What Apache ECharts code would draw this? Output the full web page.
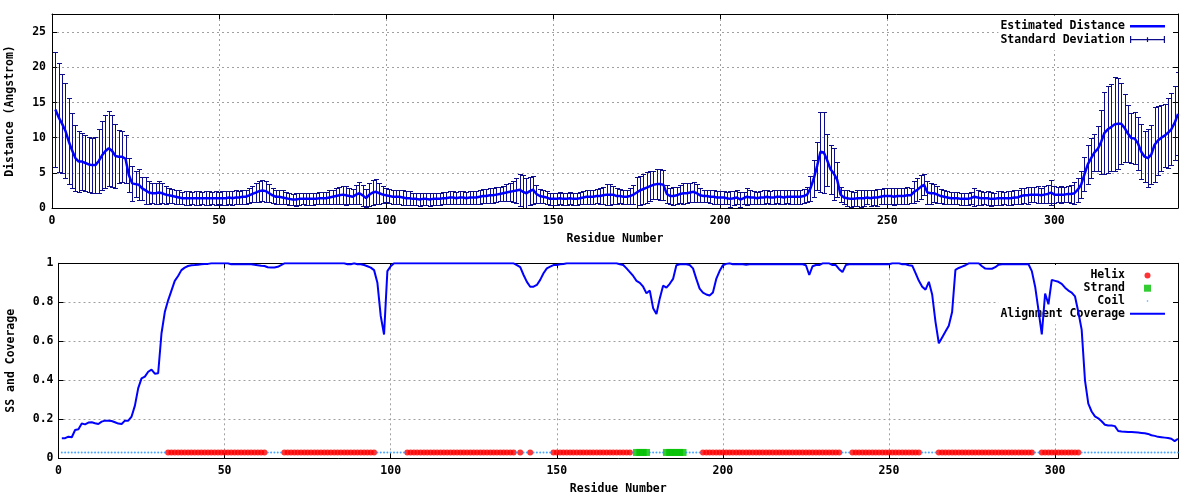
<!DOCTYPE html>
<html>
<head>
<meta charset="utf-8">
<script src="https://cdn.jsdelivr.net/npm/echarts@6/dist/echarts.min.js"></script>
<style>html,body{margin:0;padding:0;background:#fff}#chart{width:1200px;height:500px}</style>
</head>
<body>
<div id="chart"></div>
<script>
// ---------------- data ----------------
const distance = [
/*1-10*/ 14.0,12.9,12.0,11.0,9.5,8.2,7.1,6.6,6.6,6.4,
/*11-20*/ 6.2,6.1,6.1,6.7,7.5,8.1,8.5,8.1,7.4,7.3,
/*21-30*/ 7.3,7.0,4.7,3.5,3.4,3.3,2.8,2.5,2.2,2.1,
/*31-40*/ 2.1,2.2,2.1,1.9,1.8,1.7,1.6,1.5,1.4,1.4,
/*41-50*/ 1.4,1.4,1.4,1.4,1.4,1.4,1.4,1.4,1.4,1.4,
/*51-60*/ 1.4,1.4,1.5,1.4,1.5,1.5,1.6,1.6,1.8,2.0,
/*61-70*/ 2.2,2.4,2.5,2.4,2.1,1.8,1.6,1.6,1.5,1.4,
/*71-80*/ 1.3,1.2,1.2,1.3,1.3,1.3,1.3,1.3,1.3,1.4,
/*81-90*/ 1.4,1.4,1.5,1.6,1.7,1.8,1.9,1.8,1.7,1.6,
/*91-100*/ 1.9,2.1,1.8,1.4,1.9,2.2,2.3,2.1,1.9,1.8,
/*101-110*/ 1.7,1.6,1.6,1.6,1.5,1.4,1.4,1.3,1.3,1.2,
/*111-120*/ 1.3,1.3,1.2,1.3,1.3,1.3,1.4,1.4,1.5,1.5,
/*121-130*/ 1.4,1.5,1.5,1.4,1.5,1.5,1.5,1.6,1.7,1.7,
/*131-140*/ 1.8,1.8,1.9,2.0,2.1,2.2,2.3,2.4,2.5,2.6,
/*141-150*/ 2.3,2.1,2.4,2.6,2.0,1.7,1.6,1.5,1.3,1.3,
/*151-160*/ 1.3,1.4,1.3,1.3,1.4,1.3,1.3,1.4,1.5,1.6,
/*161-170*/ 1.6,1.6,1.7,1.7,1.8,1.9,1.9,1.9,1.7,1.7,
/*171-180*/ 1.6,1.6,1.7,1.9,2.2,2.5,2.7,2.9,3.1,3.3,
/*181-190*/ 3.4,3.4,3.3,2.0,1.7,1.7,1.8,2.0,2.1,2.1,
/*191-200*/ 2.2,2.3,2.1,1.8,1.7,1.7,1.6,1.6,1.5,1.5,
/*201-210*/ 1.5,1.4,1.3,1.4,1.5,1.2,1.4,1.6,1.5,1.5,
/*211-220*/ 1.4,1.5,1.5,1.6,1.5,1.5,1.6,1.6,1.5,1.6,
/*221-230*/ 1.6,1.6,1.6,1.6,1.7,1.9,2.8,4.2,6.0,8.0,
/*231-240*/ 7.9,6.8,5.5,4.9,4.0,1.9,1.5,1.4,1.3,1.3,
/*241-250*/ 1.4,1.4,1.4,1.5,1.4,1.5,1.5,1.6,1.7,1.7,
/*251-260*/ 1.7,1.6,1.7,1.7,1.7,1.8,1.8,2.3,2.6,3.0,
/*261-270*/ 3.3,2.2,2.1,2.1,1.9,1.7,1.6,1.5,1.4,1.4,
/*271-280*/ 1.4,1.3,1.3,1.3,1.4,1.6,1.5,1.4,1.4,1.4,
/*281-290*/ 1.3,1.3,1.4,1.4,1.4,1.4,1.4,1.5,1.5,1.7,
/*291-300*/ 1.8,1.8,1.9,1.9,1.9,1.8,1.9,2.0,2.2,1.9,
/*301-310*/ 1.9,1.9,1.9,2.0,2.0,2.1,2.6,3.3,4.8,6.2,
/*311-320*/ 7.1,7.9,8.4,9.4,10.7,11.2,11.5,11.9,12.0,12.0,
/*321-330*/ 11.4,10.6,9.95,9.9,9.2,8.0,7.3,7.1,7.6,9.0,
/*331-337*/ 9.6,10.0,10.3,10.7,11.2,12.1,13.4
];

const stdDev = [
/*1-10*/ 8.2,7.8,7.0,6.8,6.1,5.3,4.7,4.3,4.1,4.0,
/*11-20*/ 3.9,3.9,4.0,4.5,4.9,5.2,5.3,5.1,4.6,3.8,
/*21-30*/ 3.6,3.4,2.4,2.5,1.9,2.2,1.6,1.9,1.7,1.4,
/*31-40*/ 1.5,1.7,1.4,1.3,1.1,1.0,1.0,1.0,0.9,1.0,
/*41-50*/ 1.0,0.9,1.0,1.0,0.9,1.0,1.0,0.9,1.0,0.9,
/*51-60*/ 1.0,1.0,0.9,1.0,1.0,0.9,1.0,1.0,1.1,1.2,
/*61-70*/ 1.4,1.5,1.5,1.5,1.3,1.1,1.0,1.0,1.0,0.9,
/*71-80*/ 0.9,0.8,0.9,0.9,0.8,0.9,0.9,0.9,0.8,0.9,
/*81-90*/ 0.9,0.9,1.0,1.0,1.1,1.2,1.3,1.4,1.2,1.1,
/*91-100*/ 1.4,1.6,1.5,1.3,1.6,1.8,1.8,1.5,1.2,1.0,
/*101-110*/ 1.0,1.0,1.0,1.0,1.1,1.0,1.0,0.9,0.9,0.9,
/*111-120*/ 0.9,0.9,0.9,0.9,0.9,0.9,0.9,0.9,0.9,0.9,
/*121-130*/ 0.9,0.9,0.9,0.9,0.9,0.9,0.9,1.0,1.0,1.0,
/*131-140*/ 1.1,1.1,1.1,1.0,1.1,1.2,1.3,1.5,1.8,2.3,
/*141-150*/ 2.4,2.2,2.0,2.0,1.3,1.0,0.9,0.9,0.9,0.9,
/*151-160*/ 0.9,0.9,0.9,0.9,0.9,0.9,0.9,0.9,0.9,1.0,
/*161-170*/ 1.0,1.0,1.0,1.1,1.2,1.5,1.5,1.3,1.1,1.0,
/*171-180*/ 1.0,1.0,1.1,1.4,2.2,2.1,2.1,2.2,2.1,2.0,
/*181-190*/ 2.1,2.2,2.1,1.3,1.2,1.3,1.2,1.3,1.5,1.4,
/*191-200*/ 1.4,1.4,1.3,1.0,0.9,0.9,0.9,1.0,0.9,0.9,
/*201-210*/ 0.9,0.9,1.1,1.0,1.0,1.1,0.9,1.2,1.0,0.9,
/*211-220*/ 0.9,0.9,1.0,0.9,0.9,1.0,0.9,1.0,1.0,0.9,
/*221-230*/ 1.0,1.0,1.0,1.0,1.0,1.1,1.8,2.7,3.4,5.7,
/*231-240*/ 5.8,3.7,3.5,3.7,2.5,1.1,1.0,1.1,1.1,1.0,
/*241-250*/ 1.1,1.2,1.1,1.0,1.1,1.1,1.2,1.1,1.2,1.2,
/*251-260*/ 1.1,1.2,1.2,1.1,1.2,1.2,1.1,1.6,1.6,1.7,
/*261-270*/ 1.5,1.6,1.5,1.3,1.2,1.0,1.0,0.9,0.9,0.9,
/*271-280*/ 0.9,0.9,0.9,0.9,0.9,1.3,1.1,1.0,0.9,1.0,
/*281-290*/ 1.0,0.9,1.0,1.0,0.9,1.0,1.0,1.0,1.0,1.1,
/*291-300*/ 1.1,1.2,1.1,1.1,1.2,1.1,1.2,1.3,1.8,1.2,
/*301-310*/ 1.1,1.2,1.1,1.2,1.3,1.6,1.7,1.9,2.4,2.8,
/*311-320*/ 2.8,2.6,3.2,4.5,5.8,6.2,6.2,6.7,6.5,5.8,
/*321-330*/ 4.8,4.0,3.6,3.7,3.8,3.9,3.6,4.1,4.2,5.3,
/*331-337*/ 4.9,4.7,4.5,5.0,5.1,5.3,5.9
];

const coverage = [
/*1-10*/ 0.103,0.103,0.111,0.108,0.145,0.149,0.178,0.174,0.183,0.185,
/*11-20*/ 0.180,0.176,0.188,0.193,0.193,0.191,0.185,0.178,0.176,0.193,
/*21-30*/ 0.193,0.214,0.27,0.36,0.41,0.419,0.444,0.455,0.434,0.436,
/*31-40*/ 0.64,0.75,0.81,0.86,0.91,0.935,0.965,0.978,0.986,0.99,
/*41-50*/ 0.991,0.993,0.995,0.996,0.997,1,1,1,1,1,
/*51-60*/ 1,0.995,0.995,0.995,0.995,0.995,0.995,0.995,0.993,0.99,
/*61-70*/ 0.987,0.986,0.98,0.978,0.978,0.982,0.991,1,1,1,
/*71-80*/ 1,1,1,1,1,1,1,1,1,1,
/*81-90*/ 1,1,1,1,1,1,0.995,0.995,1,0.995,
/*91-100*/ 0.995,0.991,0.985,0.978,0.965,0.90,0.73,0.635,0.96,0.985,
/*101-110*/ 1,1,1,1,1,1,1,1,1,1,
/*111-120*/ 1,1,1,1,1,1,1,1,1,1,
/*121-130*/ 1,1,1,1,1,1,1,1,1,1,
/*131-140*/ 1,1,1,1,1,1,1,0.991,0.98,0.94,
/*141-150*/ 0.905,0.88,0.88,0.889,0.915,0.949,0.974,0.983,0.991,0.991,
/*151-160*/ 0.995,0.996,1,1,1,1,1,1,1,1,
/*161-170*/ 1,1,1,1,1,1,1,1,0.995,0.991,
/*171-180*/ 0.974,0.955,0.935,0.91,0.90,0.88,0.846,0.86,0.77,0.74,
/*181-190*/ 0.82,0.885,0.875,0.895,0.92,0.99,0.995,0.995,0.995,0.991,
/*191-200*/ 0.974,0.92,0.87,0.85,0.84,0.835,0.85,0.92,0.96,0.99,
/*201-210*/ 0.997,1,0.995,0.995,0.996,0.995,0.993,0.995,0.995,0.995,
/*211-220*/ 0.995,0.995,0.995,0.995,0.995,0.995,0.995,0.995,0.995,0.995,
/*221-230*/ 0.995,0.995,0.995,0.995,0.99,0.94,0.985,0.991,0.991,1,
/*231-240*/ 1,1,0.991,0.991,0.97,0.955,0.991,0.995,0.995,0.995,
/*241-250*/ 0.995,0.995,0.995,0.995,0.995,0.995,0.995,0.995,0.995,0.995,
/*251-260*/ 1,1,1,0.995,0.995,0.99,0.988,0.95,0.91,0.88,
/*261-270*/ 0.865,0.905,0.84,0.70,0.59,0.62,0.65,0.68,0.75,0.966,
/*271-280*/ 0.976,0.983,0.99,1,1,1,1,0.985,0.973,0.972,
/*281-290*/ 0.972,0.98,0.993,0.995,0.995,0.995,0.995,0.995,0.995,0.995,
/*291-300*/ 0.995,0.995,0.96,0.88,0.76,0.635,0.845,0.79,0.915,0.91,
/*301-310*/ 0.905,0.895,0.875,0.86,0.85,0.83,0.75,0.66,0.40,0.28,
/*311-320*/ 0.24,0.215,0.205,0.19,0.172,0.168,0.168,0.165,0.14,0.137,
/*321-330*/ 0.136,0.135,0.135,0.134,0.132,0.13,0.128,0.125,0.118,0.115,
/*331-337*/ 0.11,0.108,0.106,0.104,0.1,0.088,0.1
];

// secondary structure, as residue ranges [first, last]
const helixRanges  = [[33,62],[68,95],[105,137],[139,139],[142,142],[149,172],[194,235],[239,259],[265,293],[296,307]];
const strandRanges = [[174,177],[183,188]];
const ssLevel = 0.03;          // height at which the SS track is drawn

// axes
const residueMax = 337;
const distMax = 27.6;
const xTickStep = 50;
const distTickStep = 5;
const covTickStep = 0.2;

// ---------------- build series data ----------------
const residues = distance.map((_, i) => i + 1);
const distLine = residues.map((r, i) => [r, distance[i]]);
const errData  = residues.map((r, i) => [r, distance[i] - stdDev[i], distance[i] + stdDev[i]]);
const covLine  = coverage.map((v, i) => [i + 1, v]);

function inRanges(r, ranges) { return ranges.some(g => r >= g[0] && r <= g[1]); }
const helixPts = [], strandPts = [], coilPts = [];
residues.forEach(r => {
  if (inRanges(r, helixRanges)) helixPts.push([r, ssLevel]);
  else if (inRanges(r, strandRanges)) strandPts.push([r, ssLevel]);
  else coilPts.push([r, ssLevel]);
});

// ---------------- styling ----------------
const FONT = 'DejaVu Sans Mono';
const txt = { fontFamily: FONT, fontWeight: 'bold', fontSize: 11.5, color: '#000' };
const gridLine = { show: true, showMinLine: false, showMaxLine: false,
  lineStyle: { color: '#a0a0a0', width: 1, type: [2, 3] } };
const axLine = { show: true, onZero: false, lineStyle: { color: '#000', width: 1 } };
const axTick = { show: true, inside: true, length: 5, lineStyle: { color: '#000', width: 1 } };
const errColor = '#0c0c8c';
const lineBlue = '#0000ff';

function xAx(grid, pos, main) {
  return {
    gridIndex: grid, type: 'value', position: pos, min: 0, max: residueMax, interval: xTickStep,
    axisLine: axLine, axisTick: axTick,
    axisLabel: main ? Object.assign({}, txt, { margin: 7,
      formatter: v => (v % xTickStep === 0 ? String(v) : '') }) : { show: false },
    splitLine: main ? gridLine : { show: false },
    name: main ? 'Residue Number' : '', nameLocation: 'middle', nameGap: 25, nameTextStyle: txt
  };
}
function yAx(grid, pos, main, max, step, name, gap, margin) {
  return {
    gridIndex: grid, type: 'value', position: pos, min: 0, max: max, interval: step,
    axisLine: axLine, axisTick: axTick,
    axisLabel: main ? Object.assign({}, txt, { margin: margin,
      formatter: v => {
        const k = Math.round(v / step);
        return Math.abs(k * step - v) < 1e-6 ? String(+(k * step).toFixed(2)) : '';
      } }) : { show: false },
    splitLine: main ? gridLine : { show: false },
    name: main ? name : '', nameLocation: 'middle', nameGap: gap, nameTextStyle: txt
  };
}

const legendText = Object.assign({}, txt);

const option = {
  animation: false,
  backgroundColor: '#fff',
  grid: [
    { left: 52, right: 22, top: 14, height: 194, containLabel: false, outerBoundsMode: 'none' },
    { left: 58.5, right: 22, top: 263.3, height: 195, containLabel: false, outerBoundsMode: 'none' }
  ],
  xAxis: [
    xAx(0, 'bottom', true), xAx(0, 'top', false),
    xAx(1, 'bottom', true), xAx(1, 'top', false)
  ],
  yAxis: [
    yAx(0, 'left', true, distMax, distTickStep, 'Distance (Angstrom)', 36, 6),
    yAx(0, 'right', false, distMax, distTickStep),
    yAx(1, 'left', true, 1, covTickStep, 'SS and Coverage', 41, 5),
    yAx(1, 'right', false, 1, covTickStep)
  ],
  legend: [
    {
      data: [
        { name: 'Estimated Distance', icon: 'path://M0,0H35V2.5H0Z' },
        { name: 'Standard Deviation', icon: 'path://M0,0H1.2V7H0Z M0,3H35V4.1H0Z M33.8,0H35V7H33.8Z M16.9,1.2H18.1V5.8H16.9Z' }
      ],
      orient: 'vertical', align: 'right', right: 27, top: 15.5, z: 1,
      itemWidth: 35, itemHeight: 7, itemGap: 0, padding: [4, 8, 4, 2],
      backgroundColor: '#fff', selectedMode: false,
      textStyle: Object.assign({}, legendText, { lineHeight: 13.4 })
    },
    {
      data: [
        { name: 'Helix', icon: 'path://M0,0M7,7M0.5,3.5a3,3 0 1,0 6,0a3,3 0 1,0 -6,0z' },
        { name: 'Strand', icon: 'path://M0,0H1V1H0Z' },
        { name: 'Coil', icon: 'path://M0,0M7,7M2.7,3.5a0.8,0.8 0 1,0 1.6,0a0.8,0.8 0 1,0 -1.6,0z' },
        { name: 'Alignment Coverage', icon: 'path://M0,0H35V2H0Z' }
      ],
      orient: 'vertical', align: 'right', right: 27, top: 265, z: 1,
      itemWidth: 35, itemHeight: 7, itemGap: 0, padding: [4, 8, 4, 2],
      backgroundColor: '#fff', selectedMode: false,
      textStyle: Object.assign({}, legendText, { lineHeight: 12.8 })
    }
  ],
  series: [
    {
      name: 'Standard Deviation', type: 'custom', xAxisIndex: 0, yAxisIndex: 0,
      data: errData, encode: { x: 0, y: [1, 2] }, clip: true, silent: true, z: 3,
      itemStyle: { color: errColor },
      renderItem: function (params, api) {
        const x = api.value(0);
        const lo = api.coord([x, api.value(1)]);
        const hi = api.coord([x, api.value(2)]);
        const cx = Math.round(lo[0]) + 0.5;
        const yl = Math.round(lo[1]) + 0.5, yh = Math.round(hi[1]) + 0.5;
        const cw = 2.5;
        const st = { stroke: errColor, lineWidth: 1, fill: null };
        return { type: 'group', children: [
          { type: 'line', shape: { x1: cx, y1: yl, x2: cx, y2: yh }, style: st },
          { type: 'line', shape: { x1: cx - cw, y1: yl, x2: cx + cw, y2: yl }, style: st },
          { type: 'line', shape: { x1: cx - cw, y1: yh, x2: cx + cw, y2: yh }, style: st }
        ] };
      }
    },
    {
      name: 'Estimated Distance', type: 'line', xAxisIndex: 0, yAxisIndex: 0,
      data: distLine, symbol: 'none', silent: true, z: 4,
      lineStyle: { color: lineBlue, width: 2.5 }, itemStyle: { color: lineBlue }
    },
    {
      name: 'Helix', type: 'scatter', xAxisIndex: 2, yAxisIndex: 2, data: helixPts,
      symbol: 'circle', symbolSize: 6, itemStyle: { color: '#ff0000' }, silent: true, z: 3
    },
    {
      name: 'Strand', type: 'scatter', xAxisIndex: 2, yAxisIndex: 2, data: strandPts,
      symbol: 'rect', symbolSize: 7, itemStyle: { color: '#00c000' }, silent: true, z: 3
    },
    {
      name: 'Coil', type: 'scatter', xAxisIndex: 2, yAxisIndex: 2, data: coilPts,
      symbol: 'circle', symbolSize: 2, itemStyle: { color: '#1e90ff' }, silent: true, z: 3
    },
    {
      name: 'Alignment Coverage', type: 'line', xAxisIndex: 2, yAxisIndex: 2,
      data: covLine, symbol: 'none', silent: true, z: 4,
      lineStyle: { color: lineBlue, width: 2 }, itemStyle: { color: lineBlue }
    }
  ]
};

const chart = echarts.init(document.getElementById('chart'), null, { renderer: 'canvas' });
chart.setOption(option);
</script>
</body>
</html>
